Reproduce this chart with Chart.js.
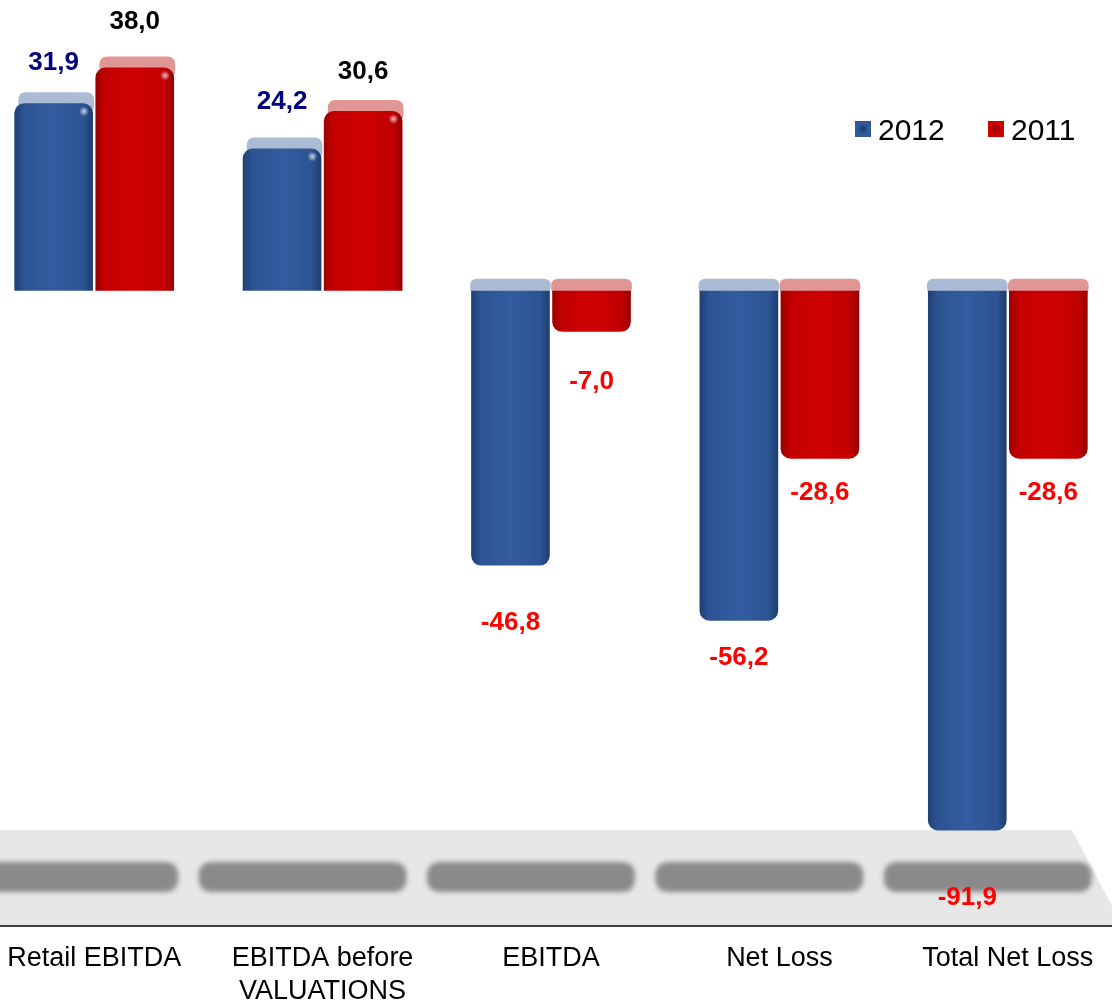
<!DOCTYPE html>
<html>
<head>
<meta charset="utf-8">
<script src="https://cdn.jsdelivr.net/npm/chart.js@4.4.1/dist/chart.umd.min.js"></script>
<style>
  html, body { margin: 0; padding: 0; background: #ffffff; overflow: hidden; }
  #wrap { position: relative; width: 1112px; height: 1001px; overflow: hidden; }
  #wrap canvas { position: absolute; left: -20px; top: 0; }
</style>
</head>
<body>
<div id="wrap"><canvas id="chart" width="1142" height="1001"></canvas></div>
<script>
// Results by line item, in millions
const categories = ['Retail EBITDA', ['EBITDA before', 'VALUATIONS'], 'EBITDA', 'Net Loss', 'Total Net Loss'];
const seriesLabels = ['2012', '2011'];
const values2012 = [31.9, 24.2, -46.8, -56.2, -91.9];
const values2011 = [38.0, 30.6, -7.0, -28.6, -28.6];

// distance of each value label from its bar end
const labelGap2012 = [41, 47, 57, 37, 67];
const labelGap2011 = [46, 39, 50, 34, 34];

const FONT = '"Liberation Sans", Arial, sans-serif';

const SERIES_STYLE = [
  {
    stops: ['#203f72', '#2c5393', '#335ca1', '#2c5393', '#1f3d6e'],
    cap: 'rgba(120, 145, 185, 0.62)',
    positiveLabel: '#000080'
  },
  {
    stops: ['#9c0000', '#c20000', '#d00000', '#c00000', '#980000'],
    cap: 'rgba(205, 80, 80, 0.6)',
    positiveLabel: '#000000'
  }
];

const formatValue = v => v.toFixed(1).replace('.', ',');

function roundRectPath(ctx, x, y, w, h, r) {
  ctx.beginPath();
  ctx.moveTo(x + r, y);
  ctx.lineTo(x + w - r, y);
  ctx.quadraticCurveTo(x + w, y, x + w, y + r);
  ctx.lineTo(x + w, y + h - r);
  ctx.quadraticCurveTo(x + w, y + h, x + w - r, y + h);
  ctx.lineTo(x + r, y + h);
  ctx.quadraticCurveTo(x, y + h, x, y + h - r);
  ctx.lineTo(x, y + r);
  ctx.quadraticCurveTo(x, y, x + r, y);
  ctx.closePath();
}

// floor, shadows, bar caps and shaded bar fills
const bars3d = {
  id: 'bars3d',
  beforeDatasetsDraw(chart) {
    const { ctx, chartArea, scales } = chart;
    const bottom = chartArea.bottom;
    const floorTop = bottom - 95;

    ctx.save();
    // floor
    ctx.fillStyle = '#e7e7e7';
    ctx.beginPath();
    ctx.moveTo(0, floorTop);
    ctx.lineTo(chart.width - 50, floorTop);
    ctx.lineTo(chart.width, bottom);
    ctx.lineTo(0, bottom);
    ctx.closePath();
    ctx.fill();

    // shadows on the floor
    ctx.filter = 'blur(2.5px)';
    ctx.fillStyle = '#8a8a8a';
    categories.forEach((c, i) => {
      const cx = scales.x.getPixelForValue(i) - 20;
      roundRectPath(ctx, cx - 104, bottom - 63, 208, 30, 14);
      ctx.fill();
    });
    ctx.filter = 'none';

    const zero = scales.y.getPixelForValue(0);
    chart.data.datasets.forEach((ds, di) => {
      const meta = chart.getDatasetMeta(di);
      const style = SERIES_STYLE[di];
      meta.data.forEach((el, i) => {
        const left = el.x - el.width / 2;
        const right = el.x + el.width / 2;
        const upper = Math.min(el.y, zero);

        // lighter cap above the upper end of the bar
        ctx.fillStyle = style.cap;
        if (ds.data[i] >= 0) {
          roundRectPath(ctx, left + 4, upper - 11, el.width - 3, 22, 8);
        } else {
          roundRectPath(ctx, left - 1, upper - 12, el.width + 2, 16, 7);
        }
        ctx.fill();

        // horizontal shading for the bar body
        const g = ctx.createLinearGradient(left, 0, right, 0);
        const pos = [0, 0.12, 0.5, 0.88, 1];
        style.stops.forEach((s, k) => g.addColorStop(pos[k], s));
        el.options = Object.assign({}, el.options, { backgroundColor: g });
      });
    });
    ctx.restore();
  },
  afterDatasetsDraw(chart) {
    const { ctx } = chart;
    ctx.save();
    ctx.font = 'bold 26px ' + FONT;
    ctx.textAlign = 'center';
    ctx.textBaseline = 'middle';
    chart.data.datasets.forEach((ds, di) => {
      const meta = chart.getDatasetMeta(di);
      const gaps = di === 0 ? labelGap2012 : labelGap2011;
      meta.data.forEach((el, i) => {
        const v = ds.data[i];
        // small highlight on the rounded top of positive bars
        if (v >= 0) {
          const hx = el.x + el.width / 2 - 9;
          const hy = el.y + 8;
          const hg = ctx.createRadialGradient(hx, hy, 0, hx, hy, 5);
          hg.addColorStop(0, 'rgba(255,255,255,0.75)');
          hg.addColorStop(1, 'rgba(255,255,255,0)');
          ctx.fillStyle = hg;
          ctx.fillRect(hx - 5, hy - 5, 10, 10);
        }
        ctx.fillStyle = v >= 0 ? SERIES_STYLE[di].positiveLabel : '#ff0000';
        const y = v >= 0 ? el.y - gaps[i] : el.y + gaps[i];
        ctx.fillText(formatValue(v), el.x, y);
      });
    });
    ctx.restore();
  },
  afterDraw(chart) {
    // legend in the upper right
    const { ctx } = chart;
    ctx.save();
    ctx.font = '30px ' + FONT;
    ctx.textBaseline = 'alphabetic';
    ctx.textAlign = 'left';
    const spots = [875, 1008];
    chart.data.datasets.forEach((ds, di) => {
      const x = spots[di];
      const y = 121;
      const st = SERIES_STYLE[di].stops;
      const g = ctx.createRadialGradient(x + 8, y + 8, 1, x + 8, y + 8, 11);
      g.addColorStop(0, st[0]);
      g.addColorStop(0.5, st[2]);
      g.addColorStop(1, st[1]);
      ctx.fillStyle = g;
      ctx.fillRect(x, y, 16, 16);
      ctx.fillStyle = '#000000';
      ctx.fillText(ds.label, x + 23, 140);
    });
    ctx.restore();
  }
};

new Chart(document.getElementById('chart').getContext('2d'), {
  type: 'bar',
  data: {
    labels: categories,
    datasets: [
      {
        label: seriesLabels[0],
        data: values2012,
        backgroundColor: '#2c5393'
      },
      {
        label: seriesLabels[1],
        data: values2011,
        backgroundColor: '#c00000'
      }
    ]
  },
  options: {
    responsive: false,
    animation: false,
    layout: { padding: 0 },
    datasets: {
      bar: {
        categoryPercentage: 0.71,
        barPercentage: 0.97,
        borderRadius: 10,
        borderSkipped: 'start',
        borderWidth: 0
      }
    },
    scales: {
      x: {
        grid: { display: false },
        border: { display: true, color: '#404040', width: 3 },
        ticks: {
          color: '#000000',
          padding: 9,
          maxRotation: 0,
          autoSkip: false,
          font: { family: FONT, size: 27, lineHeight: 1.22 }
        },
        afterFit(scale) { scale.height = 76; }
      },
      y: {
        display: false,
        min: -108,
        max: 49.5
      }
    },
    plugins: {
      legend: { display: false },
      tooltip: { enabled: false }
    }
  },
  plugins: [bars3d]
});
</script>
</body>
</html>
